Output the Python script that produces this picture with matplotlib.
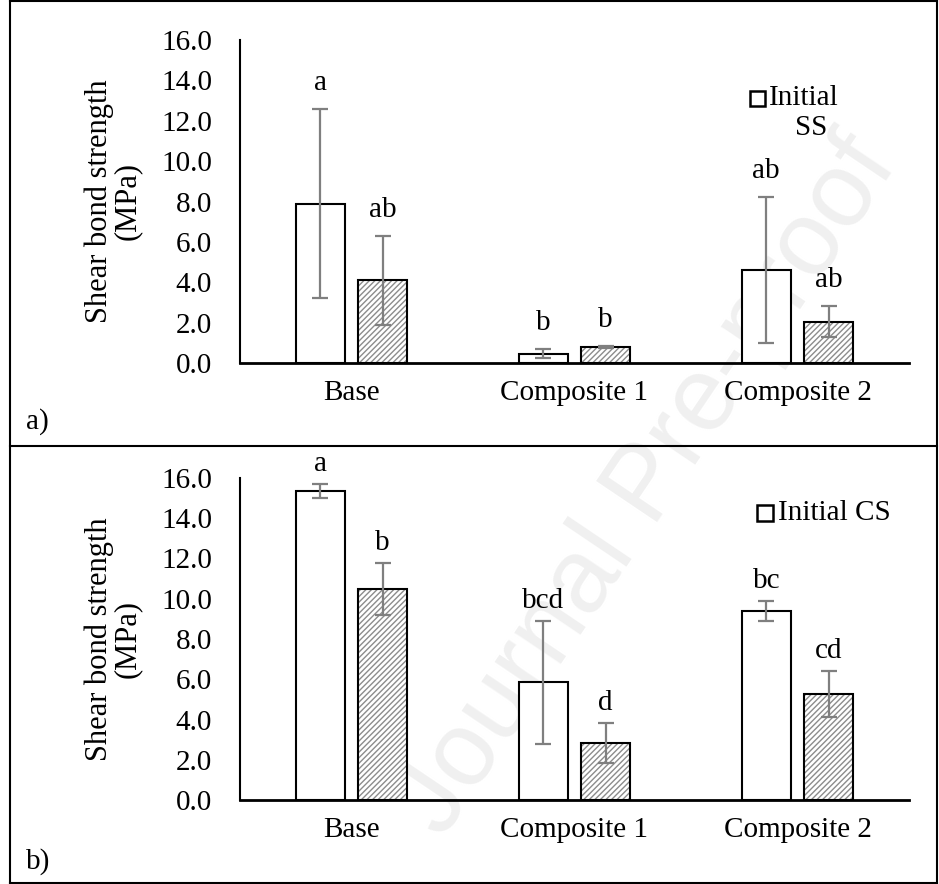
import matplotlib
matplotlib.use("Agg")
import matplotlib.pyplot as plt
import numpy as np
from matplotlib.patches import Rectangle
from matplotlib.lines import Line2D

categories = ["Base", "Composite 1", "Composite 2"]
yticks = [0, 2, 4, 6, 8, 10, 12, 14, 16]

# Panel a (SS)
a_initial = [7.9, 0.45, 4.6]
a_initial_sd = [4.7, 0.22, 3.6]
a_second = [4.1, 0.8, 2.05]
a_second_sd = [2.2, 0.05, 0.75]
a_letters_initial = ["a", "b", "ab"]
a_letters_second = ["ab", "b", "ab"]

# Panel b (CS)
b_initial = [15.35, 5.85, 9.4]
b_initial_sd = [0.35, 3.05, 0.5]
b_second = [10.5, 2.85, 5.25]
b_second_sd = [1.3, 1.0, 1.15]
b_letters_initial = ["a", "bcd", "bc"]
b_letters_second = ["b", "d", "cd"]

plt.rcParams['font.family'] = ['Liberation Serif', 'DejaVu Serif']
plt.rcParams['hatch.linewidth'] = 1.0

W, H = 939, 884
fig = plt.figure(figsize=(W / 100, H / 100), dpi=100)

# Watermark (behind everything)
fig.text(0.69, 0.45, "Journal Pre-proof", family="Liberation Sans", fontsize=76,
         color="#f0f0f0", rotation=56, ha="center", va="center", zorder=-10)

def px(x, y):
    return x / W, 1 - y / H

frame_l, frame_r, frame_t, frame_b, div = 10, 937, 1, 883, 446
for (x0, y0, x1, y1) in [(frame_l, frame_t, frame_r, frame_t), (frame_l, frame_b, frame_r, frame_b),
                         (frame_l, frame_t, frame_l, frame_b), (frame_r, frame_t, frame_r, frame_b),
                         (frame_l, div, frame_r, div)]:
    a0 = px(x0, y0); a1 = px(x1, y1)
    fig.add_artist(Line2D([a0[0], a1[0]], [a0[1], a1[1]], color="black", lw=1.5,
                          transform=fig.transFigure))

fs = 21
width = 0.22
off = 0.14
x = np.arange(len(categories))


def draw_panel(rect, init, init_sd, sec, sec_sd, l_init, l_sec, letter_off):
    ax = fig.add_axes(rect)
    ax.set_facecolor("none")
    ax.bar(x - off, init, width, color="white", edgecolor="black", lw=1.5, zorder=2)
    ax.bar(x + off, sec, width, color="white", edgecolor="#8c8c8c", hatch="//////", lw=0, zorder=2)
    ax.bar(x + off, sec, width, color="none", edgecolor="black", lw=1.5, zorder=3)
    ax.errorbar(x - off, init, yerr=init_sd, fmt="none", ecolor="#7f7f7f", elinewidth=1.6,
                capsize=6, capthick=1.6, zorder=4)
    ax.errorbar(x + off, sec, yerr=sec_sd, fmt="none", ecolor="#7f7f7f", elinewidth=1.6,
                capsize=6, capthick=1.6, zorder=4)
    for xi, v, s, t in zip(x - off, init, init_sd, l_init):
        ax.annotate(t, (xi, min(v + s, 16)), xytext=(0, letter_off), textcoords="offset pixels",
                    ha="center", va="center", fontsize=fs, annotation_clip=False)
    for xi, v, s, t in zip(x + off, sec, sec_sd, l_sec):
        ax.annotate(t, (xi, v + s), xytext=(0, letter_off), textcoords="offset pixels",
                    ha="center", va="center", fontsize=fs, annotation_clip=False)
    ax.set_xlim(-0.5, 2.5)
    ax.set_ylim(0, 16)
    ax.set_yticks(yticks)
    ax.set_yticklabels([f"{v:.1f}" for v in yticks], fontsize=fs)
    ax.set_xticks(x)
    ax.set_xticklabels(categories, fontsize=fs)
    ax.tick_params(axis="both", length=0)
    ax.tick_params(axis="y", pad=20)
    ax.tick_params(axis="x", pad=12)
    for sp in ["top", "right"]:
        ax.spines[sp].set_visible(False)
    ax.spines["left"].set_linewidth(1.5)
    ax.spines["bottom"].set_linewidth(2)
    ax.set_ylabel("Shear bond strength\n(MPa)", fontsize=22, linespacing=0.95)
    ax.yaxis.set_label_coords(-0.147, 0.5)
    return ax


ax_w = (909 - 240) / W
ax1 = draw_panel([240 / W, 1 - 363 / H, ax_w, 323 / H], a_initial, a_initial_sd, a_second,
                 a_second_sd, a_letters_initial, a_letters_second, 26)
ax2 = draw_panel([240 / W, 1 - 800 / H, ax_w, 322 / H], b_initial, b_initial_sd, b_second,
                 b_second_sd, b_letters_initial, b_letters_second, 20)

# Legends (only the open-bar entry is visible)
def legend(sq, text, tx, ty):
    x0, y0, s = sq
    p = px(x0, y0 + s)
    fig.add_artist(Rectangle(p, s / W, s / H, transform=fig.transFigure, facecolor="white",
                             edgecolor="black", lw=1.8, zorder=5))
    q = px(tx, ty)
    fig.text(q[0], q[1], text, fontsize=fs, ha="left", va="center", zorder=5)

legend((750, 91, 15), "Initial", 769, 98)
q = px(811, 128)
fig.text(q[0], q[1], "SS", fontsize=fs, ha="center", va="center")
legend((757, 505, 16), "Initial CS", 778, 513)

q = px(26, 422)
fig.text(q[0], q[1], "a)", fontsize=fs, ha="left", va="center")
q = px(26, 862)
fig.text(q[0], q[1], "b)", fontsize=fs, ha="left", va="center")

fig.savefig("out.png", dpi=100)
